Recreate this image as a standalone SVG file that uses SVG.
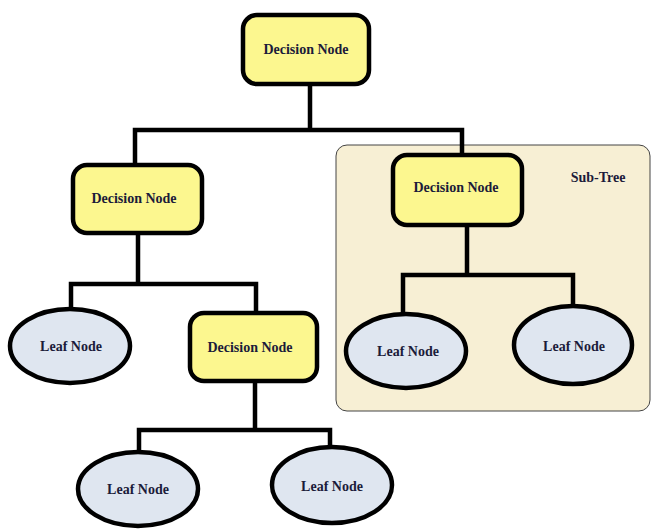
<svg xmlns="http://www.w3.org/2000/svg" width="651" height="529" viewBox="0 0 651 529">
<style>
.dec{fill:#fcf78f;stroke:#000;stroke-width:4.5}
.leaf{fill:#dfe6f0;stroke:#000;stroke-width:4.5}
.lbl{font-family:"Liberation Serif","DejaVu Serif",serif;font-weight:bold;font-size:14px;fill:#1b1b3a;text-anchor:middle;dominant-baseline:central}
.con{fill:none;stroke:#000;stroke-width:4.5;stroke-linecap:square}
</style>
<rect width="651" height="529" fill="#fff"/>
<g id="subtree">
<rect x="336" y="145" width="314" height="266" rx="11" fill="#f7efd4" stroke="#444" stroke-width="1"/>
<text class="lbl" x="598" y="177">Sub-Tree</text>
</g>
<g id="connectors">
<path class="con" d="M310,84 V130 M135,130 H462 M135,130 V165 M462,130 V155"/>
<path class="con" d="M467,225 V275 M403,275 H573 M403,275 V316 M573,275 V308"/>
<path class="con" d="M138,233 V284 M71,284 H256 M71,284 V310 M256,284 V313"/>
<path class="con" d="M255,381 V430 M139,430 H330 M139,430 V452 M330,430 V447"/>
</g>
<g id="n1"><rect class="dec" x="243" y="15" width="126" height="69" rx="14"/><text class="lbl" x="306" y="49">Decision Node</text></g>
<g id="n2"><rect class="dec" x="73" y="165" width="129" height="68" rx="14"/><text class="lbl" x="134" y="198">Decision Node</text></g>
<g id="n3"><rect class="dec" x="393" y="155" width="129" height="70" rx="14"/><text class="lbl" x="456" y="187">Decision Node</text></g>
<g id="n4"><ellipse class="leaf" cx="70" cy="346" rx="60" ry="37"/><text class="lbl" x="71" y="346">Leaf Node</text></g>
<g id="n5"><rect class="dec" x="190" y="313" width="127" height="68" rx="14"/><text class="lbl" x="250" y="347">Decision Node</text></g>
<g id="n6"><ellipse class="leaf" cx="406" cy="351" rx="60" ry="37"/><text class="lbl" x="408" y="351">Leaf Node</text></g>
<g id="n7"><ellipse class="leaf" cx="573" cy="345" rx="59" ry="39"/><text class="lbl" x="574" y="346">Leaf Node</text></g>
<g id="n8"><ellipse class="leaf" cx="138" cy="489" rx="60" ry="37"/><text class="lbl" x="138" y="489">Leaf Node</text></g>
<g id="n9"><ellipse class="leaf" cx="332" cy="485" rx="60" ry="38"/><text class="lbl" x="332" y="486">Leaf Node</text></g>
</svg>
